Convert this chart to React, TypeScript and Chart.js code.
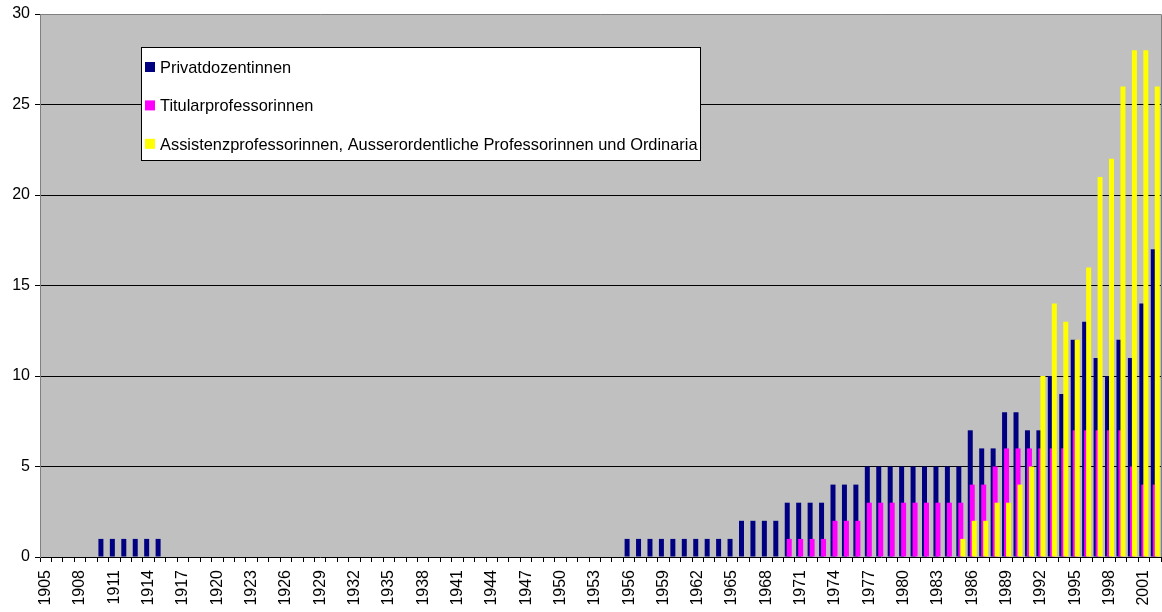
import React, { useEffect, useRef } from "react";
import { Chart, registerables } from "chart.js";

Chart.register(...registerables);

const years: string[] = [];
for (let y = 1905; y <= 2002; y++) years.push(String(y));

// 1905 ... 2002, ten values per row
const privatdozentinnen = [
  0, 0, 0, 0, 0, 1, 1, 1, 1, 1, // 1905-1914
  1, 0, 0, 0, 0, 0, 0, 0, 0, 0, // 1915-1924
  0, 0, 0, 0, 0, 0, 0, 0, 0, 0, // 1925-1934
  0, 0, 0, 0, 0, 0, 0, 0, 0, 0, // 1935-1944
  0, 0, 0, 0, 0, 0, 0, 0, 0, 0, // 1945-1954
  0, 1, 1, 1, 1, 1, 1, 1, 1, 1, // 1955-1964
  1, 2, 2, 2, 2, 3, 3, 3, 3, 4, // 1965-1974
  4, 4, 5, 5, 5, 5, 5, 5, 5, 5, // 1975-1984
  5, 7, 6, 6, 8, 8, 7, 7, 10, 9, // 1985-1994
  12, 13, 11, 10, 12, 11, 14, 17, // 1995-2002
];

const titularprofessorinnen = [
  0, 0, 0, 0, 0, 0, 0, 0, 0, 0, // 1905-1914
  0, 0, 0, 0, 0, 0, 0, 0, 0, 0, // 1915-1924
  0, 0, 0, 0, 0, 0, 0, 0, 0, 0, // 1925-1934
  0, 0, 0, 0, 0, 0, 0, 0, 0, 0, // 1935-1944
  0, 0, 0, 0, 0, 0, 0, 0, 0, 0, // 1945-1954
  0, 0, 0, 0, 0, 0, 0, 0, 0, 0, // 1955-1964
  0, 0, 0, 0, 0, 1, 1, 1, 1, 2, // 1965-1974
  2, 2, 3, 3, 3, 3, 3, 3, 3, 3, // 1975-1984
  3, 4, 4, 5, 6, 6, 6, 6, 6, 6, // 1985-1994
  7, 7, 7, 7, 7, 5, 4, 4, // 1995-2002
];

const assistenzUndOrdinaria = [
  0, 0, 0, 0, 0, 0, 0, 0, 0, 0, // 1905-1914
  0, 0, 0, 0, 0, 0, 0, 0, 0, 0, // 1915-1924
  0, 0, 0, 0, 0, 0, 0, 0, 0, 0, // 1925-1934
  0, 0, 0, 0, 0, 0, 0, 0, 0, 0, // 1935-1944
  0, 0, 0, 0, 0, 0, 0, 0, 0, 0, // 1945-1954
  0, 0, 0, 0, 0, 0, 0, 0, 0, 0, // 1955-1964
  0, 0, 0, 0, 0, 0, 0, 0, 0, 0, // 1965-1974
  0, 0, 0, 0, 0, 0, 0, 0, 0, 0, // 1975-1984
  1, 2, 2, 3, 3, 4, 5, 10, 14, 13, // 1985-1994
  12, 16, 21, 22, 26, 28, 28, 26, // 1995-2002
];

const seriesLabels = [
  "Privatdozentinnen",
  "Titularprofessorinnen",
  "Assistenzprofessorinnen, Ausserordentliche Professorinnen und Ordinaria",
];
const seriesColors = ["#000080", "#FF00FF", "#FFFF00"];

const yTicks = [0, 5, 10, 15, 20, 25, 30];

const FONT = "'Liberation Sans', Arial, sans-serif";

const frameAndOrderPlugin = {
  id: "frameAndOrder",
  beforeDraw(chart: any) {
    const { ctx, chartArea: a } = chart;
    ctx.save();
    ctx.fillStyle = "#C0C0C0";
    ctx.fillRect(a.left, a.top, a.right - a.left, a.bottom - a.top);
    ctx.restore();
  },
  beforeDatasetsDraw(chart: any) {
    // draw first series at the bottom, last series on top
    for (let i = 0; i < chart.data.datasets.length; i++) {
      const meta = chart.getDatasetMeta(i);
      if (!meta.hidden) meta.controller.draw();
    }
    return false;
  },
  afterDraw(chart: any) {
    const { ctx, chartArea: a } = chart;
    ctx.save();
    // frame top/right
    ctx.strokeStyle = "#808080";
    ctx.lineWidth = 1;
    ctx.beginPath();
    ctx.moveTo(a.left, a.top + 0.5);
    ctx.lineTo(a.right + 0.5, a.top + 0.5);
    ctx.lineTo(a.right + 0.5, a.bottom);
    ctx.stroke();

    // legend box
    const bx = 141.5, by = 47.5, bw = 559, bh = 113;
    ctx.fillStyle = "#FFFFFF";
    ctx.fillRect(bx, by, bw, bh);
    ctx.strokeStyle = "#000000";
    ctx.strokeRect(bx, by, bw, bh);
    ctx.font = "16.4px " + FONT;
    ctx.textBaseline = "alphabetic";
    ctx.textAlign = "left";
    const rowStep = 38.4;
    chart.data.datasets.forEach((ds: any, i: number) => {
      const my = 62 + i * rowStep;
      ctx.fillStyle = ds.backgroundColor;
      ctx.fillRect(145, my, 10, 10);
      ctx.fillStyle = "#000000";
      ctx.fillText(ds.label, 160, 73 + i * rowStep);
    });
    ctx.restore();
  },
};

export default function App() {
  const ref = useRef<HTMLCanvasElement | null>(null);

  useEffect(() => {
    if (!ref.current) return;
    Chart.defaults.font.family = FONT;
    Chart.defaults.font.size = 16;
    Chart.defaults.color = "#000000";

    const datasets = [privatdozentinnen, titularprofessorinnen, assistenzUndOrdinaria].map(
      (data, i) => ({
        label: seriesLabels[i],
        data,
        backgroundColor: seriesColors[i],
        borderWidth: 0,
        categoryPercentage: 0.5245,
        barPercentage: 2.5,
      })
    );

    const chart = new Chart(ref.current, {
      type: "bar",
      data: { labels: years, datasets },
      plugins: [frameAndOrderPlugin],
      options: {
        animation: false,
        responsive: false,
        events: [],
        layout: { padding: { left: 0, top: 14, right: 1, bottom: 0 } },
        plugins: {
          legend: { display: false },
          tooltip: { enabled: false },
        },
        scales: {
          x: {
            offset: true,
            grid: {
              offset: true,
              drawOnChartArea: false,
              drawTicks: true,
              tickLength: 5,
              tickColor: "#000000",
            },
            border: { display: true, color: "#000000" },
            ticks: {
              autoSkip: false,
              maxRotation: 90,
              minRotation: 90,
              padding: 8,
              font: { size: 16 },
              callback: (_v: any, idx: number) => (idx % 3 === 0 ? years[idx] : ""),
            },
            afterFit: (scale: any) => {
              scale.height = 55;
              scale.paddingLeft = 0;
              scale.paddingRight = 0;
            },
          },
          y: {
            min: 0,
            max: 30,
            afterBuildTicks: (scale: any) => {
              scale.ticks = yTicks.map((v) => ({ value: v }));
            },
            grid: {
              color: (c: any) =>
                c.tick && (c.tick.value === 0 || c.tick.value === 30) ? "rgba(0,0,0,0)" : "#000000",
              tickColor: "#000000",
              tickLength: 5,
            },
            border: { display: true, color: "#808080" },
            ticks: { padding: 5, font: { size: 16 } },
            afterFit: (scale: any) => {
              scale.width = 40;
              scale.paddingTop = 0;
              scale.paddingBottom = 0;
            },
          },
        },
      } as any,
    });
    return () => chart.destroy();
  }, []);

  return (
    <div style={{ position: "fixed", left: 0, top: 0, width: 1162, height: 612, background: "#fff" }}>
      <canvas ref={ref} width={1162} height={612} style={{ display: "block" }} />
    </div>
  );
}
